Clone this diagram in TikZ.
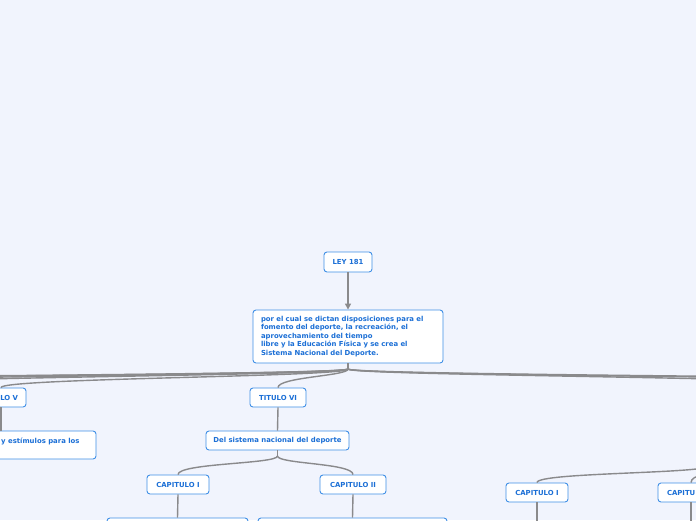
\documentclass[tikz,border=0pt]{standalone}
\usepackage{fontspec}
\newfontfamily\vf{DejaVu Sans}
\usetikzlibrary{arrows.meta}
\definecolor{bgc}{HTML}{F1F4FD}
\definecolor{bordc}{HTML}{3F8FE6}
\definecolor{txtc}{HTML}{1B6FD6}
\definecolor{linec}{HTML}{8A8A8C}
\tikzset{
  tfont/.style={font=\vf\bfseries\fontsize{6.9}{8.5}\selectfont},
  box/.style={draw=bordc, line width=0.9pt, fill=white, rounded corners=3pt,
    text=txtc, tfont, inner sep=0pt},
  conn/.style={draw=linec, line width=1.4pt},
  arr/.style={conn, -{Triangle[length=6pt,width=6pt]}},
}
\begin{document}
\begin{tikzpicture}[x=1pt,y=-1pt]
\useasboundingbox (0,0) rectangle (696,520);
\fill[bgc] (0,0) rectangle (696,520);
\clip (0,0) rectangle (696,520);

% nodes
\node[box, minimum width=48pt, minimum height=20pt] (ley) at (348,262) {LEY 181};
\node[box, minimum width=190pt, minimum height=53pt, text width=174pt, align=left] (main) at (348,336.5)
  {por el cual se dictan disposiciones para el\\fomento del deporte, la recreación, el\\aprovechamiento del tiempo\\libre y la Educación Física y se crea el\\Sistema Nacional del Deporte.};
\node[box, minimum width=50pt, minimum height=19pt, text width=34pt, align=right] (t5) at (1,397.5) {LO V};
\node[box, minimum width=196pt, minimum height=28pt] (yebox) at (-2,445) {};
\node[text=txtc, tfont, anchor=west, inner sep=0pt] (yetxt) at (1,441) {y estímulos para los};
\node[box, minimum width=56pt, minimum height=19pt] (t6) at (278,397.5) {TITULO VI};
\node[box, minimum width=143pt, minimum height=19pt] (del) at (277.5,440.5) {Del sistema nacional del deporte};
\node[box, minimum width=62pt, minimum height=19pt] (c1) at (178,484.5) {CAPITULO I};
\node[box, minimum width=66pt, minimum height=19pt] (c2) at (353,484.5) {CAPITULO II};
\node[box, minimum width=141pt, minimum height=30pt] (b1) at (177.5,533) {};
\node[box, minimum width=189pt, minimum height=30pt] (b2) at (352.5,533) {};
\node[box, minimum width=62pt, minimum height=19pt] (c1r) at (537,492.5) {CAPITULO I};
\node[box, minimum width=66pt, minimum height=19pt, text width=48pt, align=left] (c2r) at (691,492.5) {CAPITU};

% coordinates
\coordinate (ms) at (348,369);
\coordinate (l1) at (-180,388);
\coordinate (l2) at (-420,388);
\coordinate (l3) at (-700,388);
\coordinate (l4) at (-1000,388);
\coordinate (r1) at (880,388);
\coordinate (r2) at (1150,388);
\coordinate (r3) at (1450,388);
\coordinate (ds) at (277.5,456);
\coordinate (rp) at (712,465);
\coordinate (e1) at (537,530);
\coordinate (e2) at (691,530);

% connectors
\draw[arr] (ley.south) -- (main.north);
\draw[conn] (main.south) -- (ms);
\draw[conn] (ms) .. controls (348,376) and (278,377) .. (t6.north);
\draw[conn] (ms) .. controls (348,377) and (1,378) .. (t5.north);
\draw[conn] (ms) .. controls (348,376) and (-180,377) .. (l1);
\draw[conn] (ms) .. controls (348,376.5) and (-420,378) .. (l2);
\draw[conn] (ms) .. controls (348,377) and (-700,378) .. (l3);
\draw[conn] (ms) .. controls (348,377.5) and (-1000,379) .. (l4);
\draw[conn] (ms) .. controls (348,376) and (880,377) .. (r1);
\draw[conn] (ms) .. controls (348,376.5) and (1150,378) .. (r2);
\draw[conn] (ms) .. controls (348,377) and (1450,379) .. (r3);
\draw[conn] (t5.south) -- (t5.south |- yebox.north);
\draw[conn] (t6.south) -- (del.north);
\draw[conn] (del.south) -- (ds);
\draw[conn] (ds) .. controls (277.5,464) and (178,463) .. (c1.north);
\draw[conn] (ds) .. controls (277.5,464) and (353,463) .. (c2.north);
\draw[conn] (c1.south) -- (b1.north);
\draw[conn] (c2.south) -- (b2.north);
\draw[conn] (rp) .. controls (712,474) and (537,472) .. (c1r.north);
\draw[conn] (rp) .. controls (712,476) and (691,474) .. (c2r.north);
\draw[conn] (c1r.south) -- (e1);
\draw[conn] (c2r.south) -- (e2);
\end{tikzpicture}
\end{document}
